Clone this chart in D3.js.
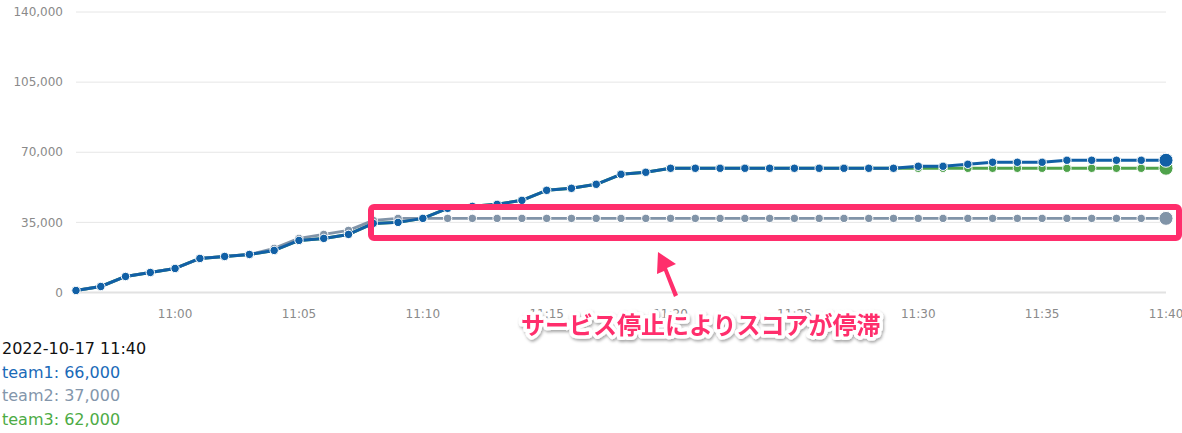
<!DOCTYPE html>
<html><head><meta charset="utf-8">
<script src="https://cdn.jsdelivr.net/npm/d3@7/dist/d3.min.js"></script>
<style>
body{margin:0;background:#fff;font-family:"DejaVu Sans",Verdana,sans-serif;}
svg{display:block;}
</style></head><body>
<svg id="c" width="1182" height="433"></svg>
<script>
const times = ["10:56","10:57","10:58","10:59","11:00","11:01","11:02","11:03","11:04","11:05","11:06","11:07","11:08","11:09","11:10","11:11","11:12","11:13","11:14","11:15","11:16","11:17","11:18","11:19","11:20","11:21","11:22","11:23","11:24","11:25","11:26","11:27","11:28","11:29","11:30","11:31","11:32","11:33","11:34","11:35","11:36","11:37","11:38","11:39","11:40"];
const team1 = [1000,3000,8000,10000,12000,17000,18000,19000,21000,26000,27000,29000,34500,35000,37000,42000,43000,44000,46000,51000,52000,54000,59000,60000,62000,62000,62000,62000,62000,62000,62000,62000,62000,62000,63000,63000,64000,65000,65000,65000,66000,66000,66000,66000,66000];
const team2 = [1000,3000,8000,10000,12000,17000,18000,19000,22000,27000,29000,31000,36000,37000,37000,37000,37000,37000,37000,37000,37000,37000,37000,37000,37000,37000,37000,37000,37000,37000,37000,37000,37000,37000,37000,37000,37000,37000,37000,37000,37000,37000,37000,37000,37000];
const team3 = [1000,3000,8000,10000,12000,17000,18000,19000,21000,26000,27000,29000,34500,35000,37000,42000,43000,44000,46000,51000,52000,54000,59000,60000,62000,62000,62000,62000,62000,62000,62000,62000,62000,62000,62000,62000,62000,62000,62000,62000,62000,62000,62000,62000,62000];
const yTicks = [0,35000,70000,105000,140000];
const xTickLabels = ["11:00","11:05","11:10","11:15","11:20","11:25","11:30","11:35","11:40"];
const dateLabel = "2022-10-17 11:40";
const annotation = "サービス停止によりスコアが停滞";

const parse = d3.timeParse("%H:%M");
const svg = d3.select("#c");
const x = d3.scaleTime().domain([parse(times[0]), parse(times[times.length-1])]).range([76,1166]);
const y = d3.scaleLinear().domain([0,140000]).range([292.5,12]);
const fmt = d3.format(",");

// grid
svg.append("g").selectAll("line").data(yTicks).join("line")
  .attr("x1",76).attr("x2",1166).attr("y1",d=>y(d)).attr("y2",d=>y(d))
  .attr("stroke",d=>d===0?"#e2e2e2":"#e6e6e6").attr("stroke-width",d=>d===0?2:1);
svg.append("g").selectAll("text").data(yTicks).join("text")
  .attr("x",63).attr("y",d=>y(d)).attr("dy","0.35em").attr("text-anchor","end")
  .attr("font-size",12).attr("fill","#8a8a8a").text(d=>fmt(d));
svg.append("g").selectAll("text").data(xTickLabels).join("text")
  .attr("x",d=>x(parse(d))).attr("y",314).attr("dy","0.35em").attr("text-anchor","middle")
  .attr("font-size",12).attr("fill","#8a8a8a").text(d=>d);

const series = [
  {name:"team3", vals:team3, color:"#4fa34b", w:3},
  {name:"team2", vals:team2, color:"#8194a8", w:2.8},
  {name:"team1", vals:team1, color:"#1160a6", w:3}
];
const line = d3.line().x((d,i)=>x(parse(times[i]))).y(d=>y(d));
series.forEach(s=>{
  const g = svg.append("g");
  g.append("path").datum(s.vals).attr("d",line).attr("fill","none")
   .attr("stroke",s.color).attr("stroke-width",s.w).attr("stroke-linejoin","round");
  g.selectAll("circle").data(s.vals).join("circle")
   .attr("cx",(d,i)=>x(parse(times[i]))).attr("cy",d=>y(d))
   .attr("r",(d,i)=>i===s.vals.length-1?7:4.2)
   .attr("fill",s.color).attr("stroke","#fff").attr("stroke-width",1);
});

// annotation box
const pink = "#ff2e6c";
svg.append("rect").attr("x",371).attr("y",207).attr("width",808).attr("height",31)
  .attr("rx",3).attr("fill","none").attr("stroke",pink).attr("stroke-width",6);
// arrow
svg.append("path")
  .attr("d","M678,295 L667,268 L676,264 L658,252 L657,274 L664,271 L674,297 Z")
  .attr("fill",pink);
const defs = svg.append("defs");
const f = defs.append("filter").attr("id","sh").attr("x","-10%").attr("y","-30%").attr("width","120%").attr("height","160%");
f.append("feDropShadow").attr("dx",1).attr("dy",2).attr("stdDeviation",1.5).attr("flood-color","#000").attr("flood-opacity",0.35);
svg.append("text").attr("x",521).attr("y",334)
  .attr("font-family","'Noto Sans CJK JP',sans-serif").attr("font-weight","bold").attr("font-size",24)
  .attr("fill",pink).attr("stroke","#fff").attr("stroke-width",7).attr("paint-order","stroke")
  .attr("stroke-linejoin","round").attr("filter","url(#sh)").text(annotation);

// legend text
const leg = [
  {t:dateLabel, c:"#111"},
  {t:"team1: "+fmt(team1[team1.length-1]), c:"#1a6ab8"},
  {t:"team2: "+fmt(team2[team2.length-1]), c:"#8396ab"},
  {t:"team3: "+fmt(team3[team3.length-1]), c:"#4dab45"}
];
svg.append("g").selectAll("text").data(leg).join("text")
  .attr("x",2).attr("y",(d,i)=>354+i*23.5).attr("font-size",16).attr("fill",d=>d.c).text(d=>d.t);
</script>
</body></html>
